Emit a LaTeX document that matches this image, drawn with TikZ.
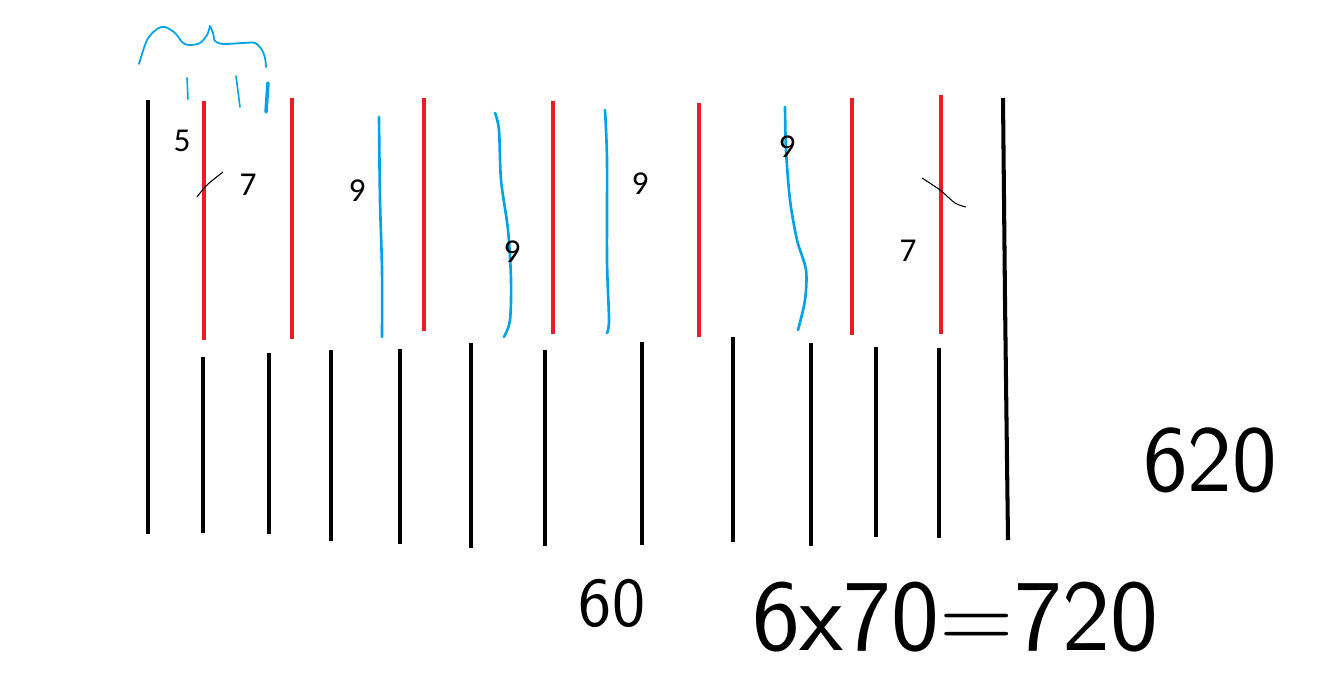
\documentclass[tikz,border=0pt]{standalone}
\usepackage{fontspec}
\setmainfont{Carlito}
\definecolor{SketchRed}{HTML}{ED1C24}
\definecolor{SketchBlue}{HTML}{00A2E8}

\begin{document}
\begin{tikzpicture}[
      x=0.02cm,y=-0.02cm,
      rod/.style={draw=black,line width=2.3pt},
      cut/.style={draw=SketchRed,line width=2.6pt},
      gap/.style={draw=SketchBlue,line width=1.5pt,line cap=round},
      tick/.style={draw=black,line width=0.6pt},
      num/.style={font=\fontsize{19}{21}\selectfont,inner sep=0pt},
      scrawl/.style={font=\sffamily,inner sep=0pt}
    ]
      \useasboundingbox (0,0) rectangle (1331,686);
      % outer rods
      \draw[rod] (148,100) -- (148,534);
      \draw[rod] (1003,98) -- (1005,300) -- (1008,540);
      % red cuts
      \foreach \x/\t/\b in {204/101/340,292/98/339,424/98/331,553/101/334,
                            699/103/337,852/98/335,941/95/334}
        \draw[cut] (\x,\t) -- (\x,\b);
      % lower rods
      \foreach \x/\t/\b in {203/357/533,269/353/534,331/350/541,400/349/544,
                            471/343/548,545/350/546,642/342/545,733/337/542,
                            811/343/546,876/347/537,939/348/538}
        \draw[rod] (\x,\t) -- (\x,\b);
      % blue gaps
      \draw[gap] plot[smooth] coordinates {(379,117) (380,200) (382,270) (382,337)};
      \draw[gap] plot[smooth] coordinates {(495,113) (499,130) (501,180) (508,230)
        (511,280) (510,320) (504,337)};
      \draw[gap] plot[smooth] coordinates {(605,110) (607,160) (607,260) (609,320) (607,333)};
      \draw[gap] plot[smooth] coordinates {(785,107) (786,150) (790,200) (797,240)
        (806,270) (805,300) (798,330)};
      % brace on top
      \draw[gap,line width=1pt] plot[smooth] coordinates {(139,64) (147,40) (157,29)
        (165,27) (175,33) (183,43) (190,45) (200,43) (207,35) (210,26)};
      \draw[gap,line width=1pt] plot[smooth] coordinates {(210,26) (213,33) (215,41)
        (223,44) (243,43) (255,43) (262,50) (265,58) (266,67)};
      \draw[gap,line width=0.9pt] (187,78) -- (188,99);
      \draw[gap,line width=0.9pt] (236,76) -- (240,107);
      \draw[gap,line width=2pt] (268,83) -- (266,112);
      % marks across the outer red cuts
      \draw[tick] plot[smooth] coordinates {(197,197) (207,185) (223,172)};
      \draw[tick] plot[smooth] coordinates {(922,178) (940,190) (955,203) (966,207)};
      % spacings
      \node[num] (s1) at (182,141) {5};
      \node[num] (s2) at (248,185) {7};
      \node[num] (s3) at (357,191) {9};
      \node[num] (s4) at (512,252) {9};
      \node[num] (s5) at (640,184) {9};
      \node[num] (s6) at (787,147) {9};
      \node[num] (s7) at (908,251) {7};
      % sums
      \node[scrawl,font=\sffamily\fontsize{54}{54}\selectfont] (total) at (1210,460) {620};
      \node[scrawl,font=\sffamily\fontsize{40}{40}\selectfont] (few) at (612,603) {60};
      \node[scrawl,font=\sffamily\fontsize{58}{58}\selectfont] (prod) at (955,617)
        {6x70=720};
    \end{tikzpicture}
\end{document}
